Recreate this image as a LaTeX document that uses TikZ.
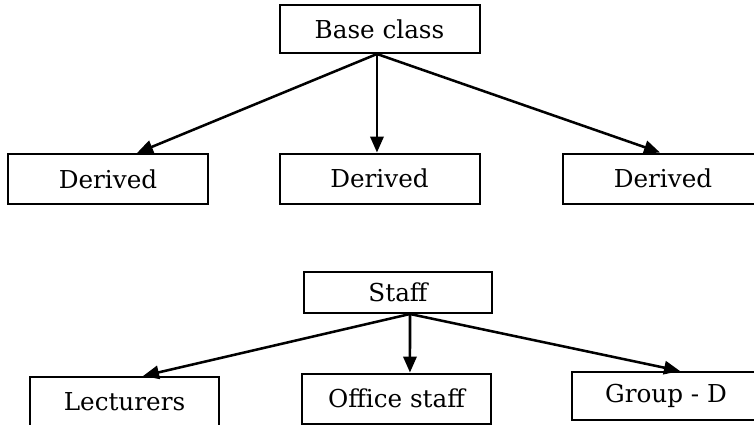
\documentclass[tikz,border=0pt]{standalone}
\usepackage{fontspec}
\setmainfont{DejaVu Serif}
\usetikzlibrary{arrows.meta}

\begin{document}
\begin{tikzpicture}[x=0.75pt, y=-0.75pt]
      \tikzset{
  box/.style={
    rectangle, draw, line width=1.5pt, text centered,
    inner sep=0pt, font=\fontsize{18.5}{21}\selectfont
  },
  topbox/.style ={box, minimum width=150pt, minimum height=37.5pt},
  lowbox/.style ={box, minimum width=141.5pt, minimum height=37.5pt},
  arrow/.style={-{Triangle[length=12pt, width=10pt]}, line width=1.9pt},
}
\clip (0,0) rectangle (754,425);

%% ---- BASE CLASS ----
\node[topbox, minimum height=36pt] (base)     at (379.5,29)  {Base class};
\node[topbox]                      (derivedl) at (108,179)   {Derived};
\node[topbox]                      (derivedm) at (379.5,178.5) {Derived};
\node[topbox]                      (derivedr) at (663,178.5) {Derived};

\draw[arrow] ([xshift=-1.9pt]base.south) -- ([xshift=21.75pt]derivedl.north);
\draw[arrow] ([xshift=-1.9pt]base.south) -- ([xshift=-1.9pt]derivedm.north);
\draw[arrow] ([xshift=-1.9pt]base.south) -- ([xshift=-2.25pt]derivedr.north);

%% ---- STAFF ----
\node[lowbox, minimum height=30.75pt] (staff)   at (398,292.5)   {Staff};
\node[lowbox]                         (lect)    at (124.5,402)   {Lecturers};
\node[lowbox]                         (office)  at (396.5,398.5) {Office staff};
\node[lowbox, minimum height=36pt]    (groupd)  at (666,396)     {Group - D};

\draw[arrow] ([xshift=9pt]staff.south) -- ([xshift=13.9pt]lect.north);
\draw[arrow] ([xshift=9pt]staff.south) -- ([xshift=10.1pt]office.north);
\draw[arrow] ([xshift=9pt]staff.south) -- ([xshift=10.5pt]groupd.north);

    \end{tikzpicture}
\end{document}
